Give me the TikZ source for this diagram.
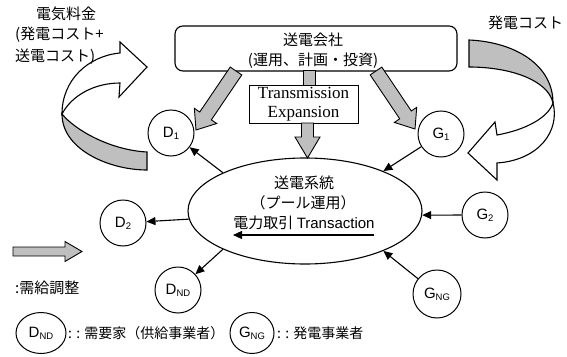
\documentclass[tikz,border=0pt]{standalone}
\usepackage{fontspec}
\newfontfamily\jp{Noto Sans CJK JP}
\newfontfamily\ar{Liberation Sans}
\newfontfamily\srf{Liberation Serif}
\usetikzlibrary{shapes.geometric,arrows.meta,calc}
\tikzset{
  hatch/.style={draw=black, line width=0.9pt, fill=gray!50},
  circ/.style={circle, draw, line width=1pt, minimum size=46pt, inner sep=0pt, font=\ar\fontsize{15}{17}\selectfont},
  legc/.style={ellipse, draw, line width=1pt, minimum width=50pt, minimum height=41pt, inner sep=0pt, font=\ar\fontsize{15}{17}\selectfont},
  arr/.style={line width=1.1pt, -{Triangle[length=9pt,width=8pt]}},
  jpt/.style={font=\jp\fontsize{15}{18}\selectfont, inner sep=0pt},
  curv/.style={draw=black, line width=1.1pt, fill=white},
}
\newcommand\sbs[1]{\raisebox{-2pt}{\fontsize{9.5}{10}\selectfont #1}}
\newcommand\blk[5]{%
  \coordinate (bb) at ($(#2)!#5!(#1)$);
  \filldraw[hatch] ($(#1)!#3!90:(#2)$) -- ($(bb)!#3!90:(#2)$) -- ($(bb)!#4!90:(#2)$) -- (#2)
    -- ($(bb)!#4!-90:(#2)$) -- ($(bb)!#3!-90:(#2)$) -- ($(#1)!#3!-90:(#2)$) -- cycle;}
\begin{document}
\begin{tikzpicture}[x=1pt,y=-1pt]
\useasboundingbox (0,0) rectangle (567,356);

% left curved arrow (electricity price)
\filldraw[hatch, line width=1.1pt] (62,114) .. controls (62,150) and (110,170) .. (147,170) -- (147,152)
   .. controls (110,150) and (75,130) .. (62,114) -- cycle;
\filldraw[curv] (147,67) -- (120,42) -- (120,53) .. controls (88,56) and (62,80) .. (62,114)
   .. controls (72,95) and (95,83) .. (120,83) -- (119,97) -- cycle;

% right curved arrow (generation cost)
\filldraw[hatch, line width=1.1pt] (469,40) .. controls (515,42) and (553,65) .. (553,103)
   .. controls (548,80) and (510,67) .. (469,67) -- cycle;
\filldraw[curv] (468,153) -- (495,122) -- (497,135) .. controls (525,130) and (548,118) .. (553,103)
   .. controls (560,130) and (540,160) .. (497,163) -- (497,180) -- cycle;

% labels
\node[jpt] (l1) at (66,14) {電気料金};
\node[jpt, anchor=west] (l2) at (15,35) {(発電コスト+};
\node[jpt, anchor=west] (l3) at (15,57) {送電コスト)};
\node[jpt, anchor=west] (l4) at (488,23) {発電コスト};

% transmission company
\node[draw, rounded corners=8pt, line width=1.1pt, minimum width=282pt, minimum height=45pt, fill=white] (tso) at (316,48.5) {};
\node[jpt] (t1) at (313,40) {送電会社};
\node[jpt] (t2) at (313,61) {(運用、計画・投資)};

% transmission expansion box
\node[draw, line width=1pt, minimum width=109pt, minimum height=38pt, inner sep=0pt, align=center,
      font=\srf\fontsize{17}{18.5}\selectfont] (te) at (303.5,104) {Transmission\\Expansion};
\filldraw[hatch] (303,70.5) rectangle (315,85);

% system ellipse
\node[ellipse, draw, line width=1.1pt, minimum width=234pt, minimum height=106pt] (sys) at (305,211) {};
\node[jpt] (s1) at (304,183) {送電系統};
\node[jpt] (s2) at (303,203) {（プール運用）};
\node[inner sep=0pt] (s3) at (304,223) {{\jp\fontsize{15}{18}\selectfont 電力取引} {\ar\fontsize{15}{18}\selectfont Transaction}};
\coordinate (u1) at (374,235);
\coordinate (u2) at (233,235);
\draw[arr] (u1) -- (u2);

% block arrows
\coordinate (a1s) at (236,71);  \coordinate (a1t) at (196,130);
\coordinate (a2s) at (376,71);  \coordinate (a2t) at (415,129);
\coordinate (a3s) at (307.5,123); \coordinate (a3t) at (307.5,158);
\blk{a1s}{a1t}{7pt}{13.5pt}{17pt}
\blk{a2s}{a2t}{7pt}{13.5pt}{17pt}
\blk{a3s}{a3t}{6pt}{12.5pt}{21pt}

% participants
\node[circ] (D1) at (171,133) {D\sbs{1}};
\node[circ] (G1) at (441,134) {G\sbs{1}};
\node[circ] (D2) at (123,223) {D\sbs{2}};
\node[circ] (DND) at (178,290) {D\sbs{ND}};
\node[circ] (G2) at (485,215) {G\sbs{2}};
\node[circ, minimum size=48pt] (GNG) at (437,294) {G\sbs{NG}};

\draw[arr] (sys.155) -- (D1);
\draw[arr] (sys.184) -- (D2);
\draw[arr] (sys.205) -- (DND);
\draw[arr] (G1) -- (sys.27);
\draw[arr] (G2) -- (sys.358);
\draw[arr] (GNG) -- (sys.333);

% legend
\coordinate (la) at (13,251.5); \coordinate (lb) at (82,251.5);
\blk{la}{lb}{4.5pt}{10pt}{17pt}
\node[jpt, anchor=west] (lg1) at (15,288) {:需給調整};
\node[legc] (lgD) at (41,333) {D\sbs{ND}};
\node[jpt, anchor=west, font=\jp\fontsize{14}{17}\selectfont] (lg2) at (68,333) {: : 需要家（供給事業者）};
\node[legc, minimum width=44pt] (lgG) at (252,333) {G\sbs{NG}};
\node[jpt, anchor=west, font=\jp\fontsize{14}{17}\selectfont] (lg3) at (277,333) {: : 発電事業者};
\end{tikzpicture}
\end{document}
